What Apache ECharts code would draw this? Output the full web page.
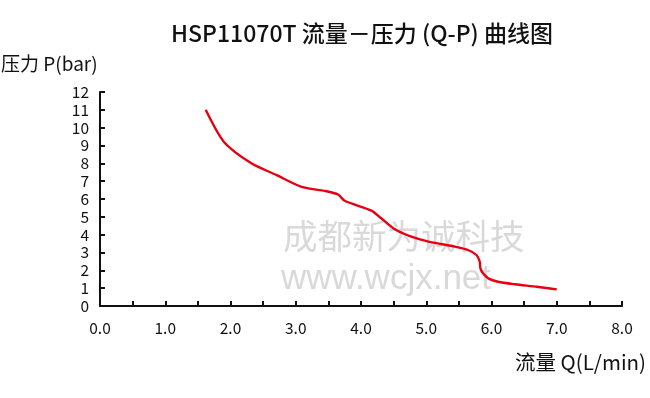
<!DOCTYPE html>
<html>
<head>
<meta charset="utf-8">
<script src="https://cdn.jsdelivr.net/npm/echarts@6/dist/echarts.min.js"></script>
<style>
  html, body { margin: 0; padding: 0; background: #fff; }
  #chart { width: 650px; height: 398px; }
</style>
</head>
<body>
<div id="chart"></div>
<script>
// 流量 Q (L/min)
const flow = [1.62, 1.90, 2.32, 2.70, 3.09, 3.45, 3.65, 3.75, 4.16, 4.30, 4.50, 4.75, 5.05, 5.44, 5.64, 5.77, 5.82, 5.83, 5.87, 5.95, 6.10, 6.36, 6.70, 7.00]
// 压力 P (bar)
const pressure = [11.0, 9.2, 8.0, 7.35, 6.68, 6.45, 6.25, 5.9, 5.35, 4.95, 4.35, 3.92, 3.6, 3.33, 3.14, 2.86, 2.48, 2.11, 1.83, 1.55, 1.36, 1.22, 1.08, 0.93]

const titleText = 'HSP11070T 流量－压力 (Q-P) 曲线图'
const xName = '流量 Q(L/min)'
const yName = '压力 P(bar)'
const watermark = ['成都新为诚科技', 'www.wcjx.net']

const font = '"Noto Sans CJK SC", "Noto Sans", sans-serif'

const chart = echarts.init(document.getElementById('chart'))

chart.setOption({
  animation: false,
  backgroundColor: '#fff',
  title: {
    text: titleText,
    left: 357,
    top: 17,
    textAlign: 'center',
    textStyle: { fontFamily: font, fontSize: 23, fontWeight: 500, color: '#111' }
  },
  graphic: [
    {
      type: 'text', left: 283, top: 219, z: 0,
      style: { text: watermark[0], font: '34.5px "Noto Sans CJK SC"', fill: '#d9d9d9' }
    },
    {
      type: 'text', left: 281, top: 262, z: 0,
      style: { text: watermark[1], font: '35px "Liberation Sans"', fill: '#d9d9d9' }
    },
    {
      type: 'text', left: 1, top: 54,
      style: { text: yName, font: '19px "Noto Sans CJK SC"', fill: '#111' }
    },
    {
      type: 'text', left: 515, top: 352,
      style: { text: xName, font: '20.5px "Noto Sans CJK SC"', fill: '#111' }
    }
  ],
  grid: { left: 100, right: 28, top: 92, bottom: 92 },
  xAxis: {
    type: 'value',
    min: 0,
    max: 8,
    interval: 0.5,
    splitLine: { show: false },
    axisLine: { lineStyle: { color: '#111', width: 2 } },
    axisTick: { inside: true, length: 5, lineStyle: { color: '#111', width: 2 } },
    axisLabel: {
      margin: 14,
      fontFamily: font,
      fontSize: 15.5,
      color: '#111',
      formatter: v => (v % 1 === 0 ? v.toFixed(1) : '')
    }
  },
  yAxis: {
    type: 'value',
    min: 0,
    max: 12,
    interval: 1,
    splitLine: { show: false },
    axisLine: { show: true, lineStyle: { color: '#111', width: 2 } },
    axisTick: { show: true, inside: true, length: 5, lineStyle: { color: '#111', width: 2 } },
    axisLabel: { margin: 11, fontFamily: font, fontSize: 15.5, color: '#111' }
  },
  series: [
    {
      type: 'line',
      z: 5,
      data: flow.map((q, i) => [q, pressure[i]]),
      smooth: 0.25,
      showSymbol: false,
      lineStyle: { color: '#e60012', width: 2.4 }
    }
  ]
})
</script>
</body>
</html>
